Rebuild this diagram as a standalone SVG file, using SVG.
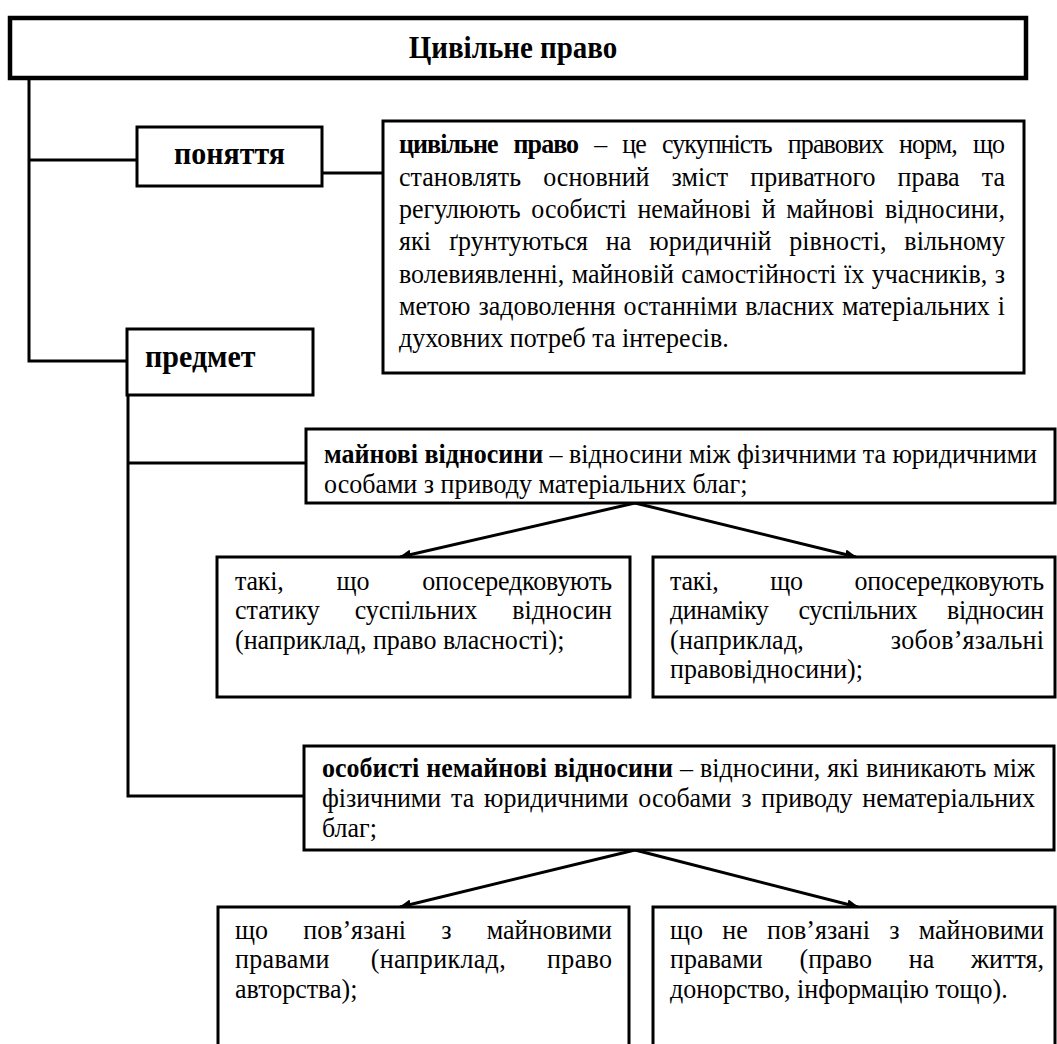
<svg xmlns="http://www.w3.org/2000/svg" width="1057" height="1044" viewBox="0 0 1057 1044">
  <style>
    .box { fill: #fff; stroke: #000; stroke-width: 3; }
    .title { fill: #fff; stroke: #000; stroke-width: 4.5; }
    .ln { fill: none; stroke: #000; stroke-width: 3; }
    .arr { fill: none; stroke: #000; stroke-width: 3; marker-end: url(#ah); }
    .tx { transform: scale(1, 1.08); }
    text { font-family: "Liberation Serif", "Times New Roman", serif; font-size: 26px; fill: #000; }
    .b { font-weight: bold; }
    .lbl { font-weight: bold; font-size: 30px; }
  </style>
  <defs>
    <marker id="ah" viewBox="0 0 12 10" refX="11" refY="5" markerWidth="12" markerHeight="10" markerUnits="userSpaceOnUse" orient="auto">
      <path d="M0,0 L12,5 L0,10 Z" fill="#000"/>
    </marker>
  </defs>
  <rect width="1057" height="1044" fill="#fff"/>

  <g id="connectors">
    <polyline class="ln" points="29,78 29,361 127,361"/>
    <line class="ln" x1="29" y1="160" x2="137" y2="160"/>
    <line class="ln" x1="322" y1="173" x2="383" y2="173"/>
    <polyline class="ln" points="128,395 128,796 304,796"/>
    <line class="ln" x1="128" y1="463" x2="306" y2="463"/>
    <line class="arr" x1="635" y1="503" x2="400" y2="557"/>
    <line class="arr" x1="635" y1="503" x2="856" y2="557"/>
    <line class="arr" x1="635" y1="850" x2="400" y2="907"/>
    <line class="arr" x1="635" y1="850" x2="858" y2="907"/>
  </g>

  <g id="title">
    <rect class="title" x="10" y="18" width="1016" height="60"/>
    <g class="tx"><text class="b" x="513" y="53.7" text-anchor="middle" style="font-size:29px">Цивільне право</text></g>
  </g>

  <g id="ponyattya">
    <rect class="box" x="137" y="127" width="185" height="59"/>
    <g class="tx"><text class="lbl" x="174" y="151.85">поняття</text></g>
  </g>

  <g id="definition">
    <rect class="box" x="383" y="121" width="641" height="252"/>
    <g class="tx">
      <text x="399" y="141.67" textLength="606" lengthAdjust="spacing" style="word-spacing:10.5px"><tspan class="b">цивільне право</tspan> – це сукупність правових норм, що</text>
      <text x="399" y="172.22" textLength="606" lengthAdjust="spacing" style="word-spacing:15.5px">становлять основний зміст приватного права та</text>
      <text x="399" y="201.85" textLength="606" lengthAdjust="spacing" style="word-spacing:4.2px">регулюють особисті немайнові й майнові відносини,</text>
      <text x="399" y="231.48" textLength="606" lengthAdjust="spacing" style="word-spacing:11.2px">які ґрунтуються на юридичній рівності, вільному</text>
      <text x="399" y="262.04" textLength="606" lengthAdjust="spacing" style="word-spacing:1px">волевиявленні, майновій самостійності їх учасників, з</text>
      <text x="399" y="291.67" textLength="606" lengthAdjust="spacing" style="word-spacing:1.4px">метою задоволення останніми власних матеріальних і</text>
      <text x="399" y="321.3">духовних потреб та інтересів.</text>
    </g>
  </g>

  <g id="predmet">
    <rect class="box" x="127" y="329" width="186" height="66"/>
    <g class="tx"><text class="lbl" x="145" y="339.81">предмет</text></g>
  </g>

  <g id="mainovi">
    <rect class="box" x="306" y="429" width="749" height="74"/>
    <g class="tx">
      <text x="324" y="428.7" textLength="713" lengthAdjust="spacing"><tspan class="b">майнові відносини</tspan> – відносини між фізичними та юридичними</text>
      <text x="324" y="456.48">особами з приводу матеріальних благ;</text>
    </g>
  </g>

  <g id="statyka">
    <rect class="box" x="217" y="557" width="413" height="140"/>
    <g class="tx">
      <text x="235" y="546.3" textLength="377" lengthAdjust="spacing" style="word-spacing:46.7px">такі, що опосередковують</text>
      <text x="235" y="573.15" textLength="377" lengthAdjust="spacing" style="word-spacing:28.4px">статику суспільних відносин</text>
      <text x="235" y="600.93">(наприклад, право власності);</text>
    </g>
  </g>

  <g id="dynamika">
    <rect class="box" x="653" y="557" width="402" height="140"/>
    <g class="tx">
      <text x="670" y="546.3" textLength="374" lengthAdjust="spacing" style="word-spacing:45.3px">такі, що опосередковують</text>
      <text x="670" y="573.15" textLength="374" lengthAdjust="spacing" style="word-spacing:23.9px">динаміку суспільних відносин</text>
      <text x="670" y="600.93" textLength="374" lengthAdjust="spacing" style="word-spacing:80px">(наприклад, зобов’язальні</text>
      <text x="670" y="627.78">правовідносини);</text>
    </g>
  </g>

  <g id="osobysti">
    <rect class="box" x="304" y="746" width="750" height="104"/>
    <g class="tx">
      <text x="322" y="719.44" textLength="713" lengthAdjust="spacing" style="word-spacing:0.5px"><tspan class="b">особисті немайнові відносини</tspan> – відносини, які виникають між</text>
      <text x="322" y="747.22" textLength="713" lengthAdjust="spacing" style="word-spacing:3.4px">фізичними та юридичними особами з приводу нематеріальних</text>
      <text x="322" y="775">благ;</text>
    </g>
  </g>

  <g id="povyazani">
    <rect class="box" x="218" y="907" width="411" height="143"/>
    <g class="tx">
      <text x="235" y="869.44" textLength="377" lengthAdjust="spacing" style="word-spacing:28.7px">що пов’язані з майновими</text>
      <text x="235" y="896.3" textLength="377" lengthAdjust="spacing" style="word-spacing:34.2px">правами (наприклад, право</text>
      <text x="235" y="924.07">авторства);</text>
    </g>
  </g>

  <g id="nepovyazani">
    <rect class="box" x="653" y="907" width="402" height="143"/>
    <g class="tx">
      <text x="670" y="869.44" textLength="374" lengthAdjust="spacing" style="word-spacing:12.8px">що не пов’язані з майновими</text>
      <text x="670" y="896.3" textLength="374" lengthAdjust="spacing" style="word-spacing:30.2px">правами (право на життя,</text>
      <text x="670" y="924.07">донорство, інформацію тощо).</text>
    </g>
  </g>
</svg>
